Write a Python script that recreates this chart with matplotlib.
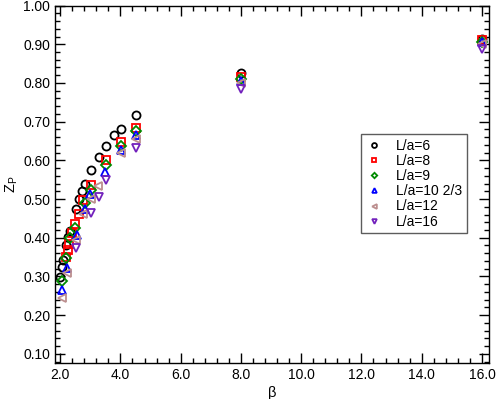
import matplotlib
matplotlib.use("Agg")
import matplotlib.pyplot as plt
from matplotlib.ticker import MultipleLocator, FormatStrFormatter

plt.rcParams['font.family'] = ['Liberation Sans', 'DejaVu Sans']
plt.rcParams['mathtext.fontset'] = 'custom'
plt.rcParams['mathtext.rm'] = 'Liberation Sans'

labels = ['L/a=6', 'L/a=8', 'L/a=9', 'L/a=10 2/3', 'L/a=12', 'L/a=16']

beta_6 = [1.98, 2.06, 2.11, 2.19, 2.26, 2.33, 2.53, 2.63, 2.72, 2.81, 3.02, 3.28, 3.52, 3.79, 4.01, 4.52, 8.0, 16.0]
zp_6 = [0.299, 0.325, 0.342, 0.380, 0.402, 0.418, 0.474, 0.499, 0.521, 0.540, 0.575, 0.609, 0.636, 0.665, 0.681, 0.717, 0.825, 0.913]

beta_8 = [2.20, 2.27, 2.31, 2.39, 2.50, 2.62, 2.77, 3.03, 3.53, 4.01, 4.52, 8.0, 16.0]
zp_8 = [0.351, 0.367, 0.384, 0.412, 0.436, 0.461, 0.498, 0.535, 0.602, 0.648, 0.684, 0.815, 0.910]

beta_9 = [2.07, 2.20, 2.33, 2.49, 2.84, 3.04, 3.53, 4.01, 4.52, 8.0, 16.0]
zp_9 = [0.289, 0.347, 0.400, 0.425, 0.490, 0.524, 0.588, 0.636, 0.677, 0.810, 0.905]

beta_10 = [2.07, 2.22, 2.55, 2.82, 3.00, 3.48, 4.01, 4.52, 8.0, 16.0]
zp_10 = [0.264, 0.321, 0.407, 0.473, 0.512, 0.569, 0.628, 0.666, 0.805, 0.905]

beta_12 = [2.07, 2.22, 2.53, 2.77, 3.02, 3.27, 4.01, 4.52, 8.0, 16.0]
zp_12 = [0.243, 0.308, 0.394, 0.461, 0.500, 0.533, 0.619, 0.654, 0.800, 0.900]

beta_16 = [2.53, 3.02, 3.29, 3.53, 4.52, 8.0, 16.0]
zp_16 = [0.374, 0.464, 0.505, 0.550, 0.632, 0.785, 0.888]

betas = [beta_6, beta_8, beta_9, beta_10, beta_12, beta_16]
zps = [zp_6, zp_8, zp_9, zp_10, zp_12, zp_16]
markers = ['o', 's', 'D', '^', '<', 'v']
colors = ['#000000', '#ff0000', '#008b00', '#0000ff', '#bc8f8f', '#7221bc']
sizes = [5.8, 5.2, 4.6, 5.6, 5.6, 5.6]

fig = plt.figure(figsize=(4.97, 3.99), dpi=100)
ax = fig.add_axes([0.1107, 0.091, 0.873, 0.895])

for b, z, m, c, s, lab in zip(betas, zps, markers, colors, sizes, labels):
    ax.plot(b, z, linestyle='none', marker=m, markersize=s, markerfacecolor='none',
            markeredgecolor=c, markeredgewidth=1.3, label=lab)

ax.set_xlim(1.83, 16.23)
ax.set_ylim(0.077, 1.0)
ax.xaxis.set_major_locator(MultipleLocator(2.0))
ax.xaxis.set_minor_locator(MultipleLocator(0.4))
ax.yaxis.set_major_locator(MultipleLocator(0.1))
ax.yaxis.set_minor_locator(MultipleLocator(0.02))
ax.xaxis.set_major_formatter(FormatStrFormatter('%.1f'))
ax.yaxis.set_major_formatter(FormatStrFormatter('%.2f'))
ax.tick_params(which='both', direction='in', top=True, right=True, labelsize=10, width=1.0)
ax.tick_params(which='major', length=7)
ax.tick_params(which='minor', length=3.5)
ax.tick_params(axis='x', pad=4)
for sp in ax.spines.values():
    sp.set_linewidth(1.0)

ax.set_xlabel('β', fontsize=10.5, labelpad=3)
ax.set_ylabel(r'$\mathrm{Z_P}$', fontsize=10.5, labelpad=2)

leg = ax.legend(loc='upper left', bbox_to_anchor=(0.705, 0.64), fontsize=10,
                markerscale=0.6, fancybox=False, frameon=True, borderpad=0.35,
                labelspacing=0.08, handlelength=1.2, handletextpad=1.0, borderaxespad=0)
leg.get_frame().set_edgecolor('#333333')
leg.get_frame().set_linewidth(1.0)

fig.savefig('out.png', dpi=100)
